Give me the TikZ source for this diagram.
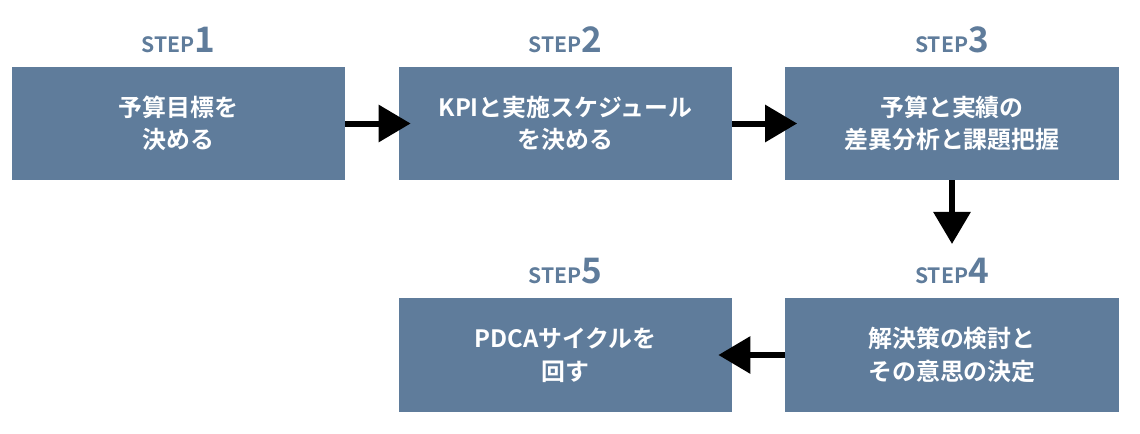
\documentclass[tikz,border=0pt]{standalone}
\usepackage{fontspec}
\newfontfamily\jpfont{Noto Sans CJK JP Bold}
\usepackage{tikz}
\usetikzlibrary{positioning,arrows.meta}
\definecolor{stepblue}{HTML}{5F7C9B}
\tikzset{stepbox/.style={rectangle,fill=stepblue,minimum width=8.325cm,minimum height=2.825cm,text=white,align=center,font=\jpfont\fontsize{17}{23}\selectfont},
  steplabel/.style={text=stepblue,font=\jpfont\fontsize{15}{15}\selectfont,inner sep=0pt},
  flow/.style={line width=0.15cm,-{Triangle[width=0.9cm,length=0.8cm]}}}
\newcommand{\steptext}[1]{STEP{\fontsize{25}{25}\selectfont #1}}

\begin{document}
\begin{tikzpicture}[x=0.025cm,y=-0.025cm]
        \useasboundingbox (0,0) rectangle (1140,434);
        \node[stepbox] (b1) at (178.5,123.5) {予算目標を\\決める};
        \node[stepbox] (b2) at (565.5,123.5) {KPIと実施スケジュール\\を決める};
        \node[stepbox] (b3) at (952,123.5) {予算と実績の\\差異分析と課題把握};
        \node[stepbox] (b4) at (952,355) {解決策の検討と\\その意思の決定};
        \node[stepbox] (b5) at (565.5,355) {PDCAサイクルを\\回す};

        \node[steplabel] (s1) at (178.5,40) {\steptext{1}};
        \node[steplabel] (s2) at (565.5,40) {\steptext{2}};
        \node[steplabel] (s3) at (952,40) {\steptext{3}};
        \node[steplabel] (s4) at (952,271) {\steptext{4}};
        \node[steplabel] (s5) at (565.5,271) {\steptext{5}};

        \coordinate (a3) at (952,244);
        \draw [flow] (b1) -- ([xshift=0.3cm]b2.west);
        \draw [flow] (b2) -- ([xshift=0.3cm]b3.west);
        \draw [flow] (b3) -- (a3);
        \draw [flow] (b4) -- ([xshift=-0.35cm]b5.east);
\end{tikzpicture}
\end{document}
